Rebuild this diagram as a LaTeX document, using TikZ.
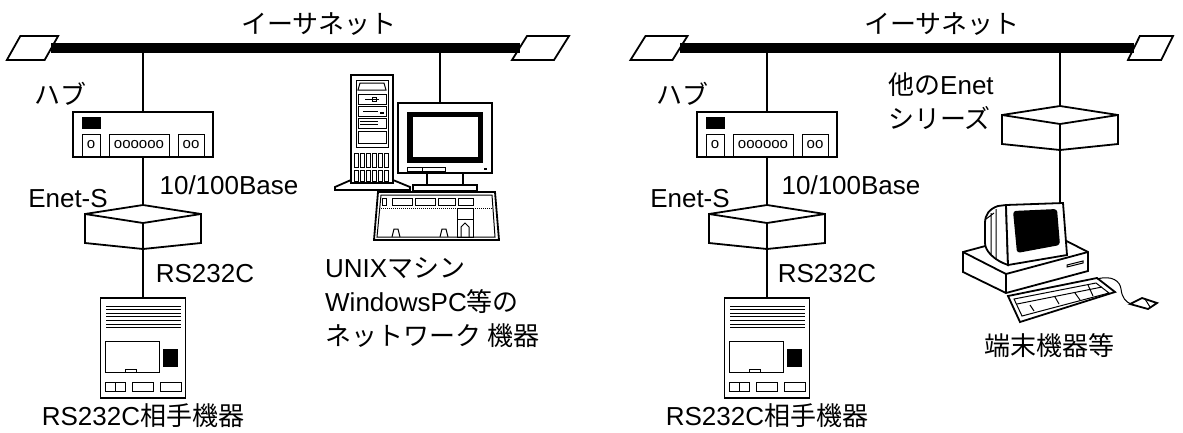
\documentclass[tikz,border=0pt]{standalone}
\usepackage{fontspec}
\setmainfont{Liberation Sans}
\newfontfamily\jp{Noto Sans CJK JP}
\usetikzlibrary{positioning}

\tikzset{
	bus/.style={line width=10pt},
	link/.style={line width=2.8pt},
	outline/.style={line width=1.8pt,fill=white},
	stroke/.style={line width=1.8pt},
	fine/.style={line width=1pt},
	lbl/.style={inner sep=0pt,font=\fontsize{26}{30}\selectfont},
	tinylbl/.style={inner sep=0pt,font=\fontsize{15}{15}\selectfont},
	busend/.pic={
		\draw[outline] (-28.5,12) -- (-13.5,-12) -- (28.5,-12) -- (13.5,12) -- cycle;
		\coordinate (-l) at (-21,0);
		\coordinate (-r) at (21,0);
	},
	hub/.pic={
		\draw[outline] (-70,0) rectangle (70,45);
		\fill (-61,5) rectangle (-42,17);
		\draw[fine] (-61,22) rectangle (-43,45) (-34,22) rectangle (26,45) (35,22) rectangle (61,45);
		\node[tinylbl] at (-52,33) {o};
		\node[tinylbl] at (-4,33) {oooooo};
		\node[tinylbl] at (48,33) {oo};
		\coordinate (-top) at (0,0);
		\coordinate (-bot) at (0,45);
	},
	enetbox/.pic={
		\draw[outline] (0,0) -- (-58,9) -- (-58,38) -- (0,44) -- (58,38) -- (58,9) -- cycle;
		\draw[stroke] (-58,9) -- (0,18) -- (58,9) (0,18) -- (0,44);
		\coordinate (-top) at (0,0);
		\coordinate (-bot) at (0,44);
	},
	rsdev/.pic={
		\draw[outline] (-42.5,0) rectangle (42.5,100);
		\draw[fine] (-37,8) -- (38,8) (-37,11.6) -- (38,11.6) (-37,15.2) -- (38,15.2) (-37,18.8) -- (38,18.8)
			(-37,22.4) -- (38,22.4) (-37,26) -- (38,26) (-37,29.6) -- (38,29.6);
		\draw[fine] (-38,43) rectangle (16,74) (-18,71) rectangle (-7,74);
		\fill (20,51) rectangle (35,69);
		\draw[fine] (-38,84) rectangle (-18,93) (-28,84) -- (-28,93) (-11,84) rectangle (10,93) (17,84) rectangle (38,93);
		\coordinate (-top) at (0,0);
	},
	unixpc/.pic={
		\draw[outline] (-89,77) -- (-105,84) -- (-105,87) -- (-30,87) -- (-30,84) -- (-47,77) -- cycle;
		\draw[outline] (-89,-28) rectangle (-47,80);
		\draw[fine] (-84,-23) rectangle (-52,44);
		\draw[fine] (-82,-13) -- (-80,-20) -- (-56,-20) -- (-54,-13) -- cycle;
		\draw[fine] (-82,-9) rectangle (-54,1) (-75,-4) -- (-61,-4) (-68,-6) rectangle (-64,-2);
		\draw[fine] (-82,3) rectangle (-54,13) (-77,8) -- (-62,8);
		\fill (-60,9) rectangle (-56,11);
		\draw[fine] (-82,15) rectangle (-54,25) (-80,18) -- (-62,18) (-80,21) -- (-62,21);
		\draw[fine] (-82,28) rectangle (-54,40);
		\draw[fine] (-86,50) rectangle (-82,64) (-80,50) rectangle (-76,64) (-74,50) rectangle (-70,64)
			(-68,50) rectangle (-64,64) (-62,50) rectangle (-58,64) (-56,50) rectangle (-52,64)
			(-86,67) rectangle (-82,78) (-80,67) rectangle (-76,78) (-74,67) rectangle (-70,78)
			(-68,67) rectangle (-64,78) (-62,67) rectangle (-58,78) (-56,67) rectangle (-52,78);
		\draw[outline] (-42,0) rectangle (52,70);
		\fill (-33,9) rectangle (43,60);
		\fill[white] (-27,14) rectangle (38,54);
		\draw[fine] (-33,64) rectangle (5,68) (-18,64) -- (-18,68);
		\fill (44,65) rectangle (47,67);
		\draw[outline] (-13,70) rectangle (23,82);
		\draw[outline] (-27,82) rectangle (37,88);
		\draw[outline] (-62,89) -- (55,89) -- (59,137) -- (-66,137) -- cycle;
		\draw[fine] (-59,92) -- (52,92) -- (55,134) -- (-63,134) -- cycle;
		\draw[fine] (-58,95) rectangle (-54,102) (-48,95) rectangle (-28,102) (-25,95) rectangle (-5,102)
			(-2,95) rectangle (15,102) (18,95) rectangle (33,102);
		\draw[fine,dash pattern=on 1pt off 1pt] (-59,105) -- (53,105);
		\draw[fine] (17,105) rectangle (33,134) (17,116) -- (33,116);
		\draw[fine] (-48,134) -- (-46,126) -- (-42,126) -- (-40,134) (0,134) -- (2,126) -- (6,126) -- (8,134)
			(21,134) -- (21,124) -- (25,120) -- (29,124) -- (29,134);
		\coordinate (-top) at (0,0);
	},
	terminal/.pic={
		\draw[outline] (-97,49) -- (-15,27) -- (28,49) -- (28,68) -- (-54,90) -- (-97,69) -- cycle;
		\draw[stroke] (-97,49) -- (-54,71) -- (28,49) (-54,71) -- (-54,90);
		\draw[fine] (7,62) -- (23,58) -- (23,60) -- (7,64) -- cycle;
		\draw[outline] (-54,2) -- (-62,3) .. controls (-71,6) and (-75,12) .. (-75,20) -- (-75,40)
			.. controls (-75,48) and (-66,56) .. (-57,60) -- (-52,62) -- cycle;
		\draw[fine] (-69,10) -- (-69,52) (-64,6) -- (-64,56) (-74,16) -- (-66,10);
		\draw[outline] (-54,2) -- (3,0) -- (7,52) -- (-52,62) -- cycle;
		\fill[rounded corners=3pt] (-47,8) -- (-3,6) -- (0,42) -- (-43,50) -- cycle;
		\draw[outline] (-52,93) -- (37,75) -- (55,89) -- (-40,119) -- cycle;
		\draw[fine] (-46,96) -- (36,80) -- (49,90) -- (-38,113) -- cycle;
		\draw[fine] (-43,101) -- (42,84) (-5,94) -- (-1,101) (15,90) -- (20,97) (28,82) -- (33,93) (-30,102) -- (-26,108);
		\draw[fine] (37,76) .. controls (52,72) and (60,78) .. (61,86) .. controls (62,95) and (66,99) .. (71,101);
		\draw[outline] (70,101) -- (82,95) -- (97,100) -- (88,106) -- cycle;
		\draw[fine] (85,96) -- (90,104);
		\coordinate (-top) at (0,0);
	}
}

\begin{document}
\begin{tikzpicture}[x=1pt,y=-1pt]
	\useasboundingbox (0,0) rectangle (1183,432);
	\clip (0,0) rectangle (1183,432);

	\pic[xscale=0.9]  (endL1) at (32.5,48)   {busend};
	\pic              (endL2) at (540.5,48)  {busend};
	\pic              (endR1) at (659,48)    {busend};
	\pic[xscale=0.79] (endR2) at (1150.5,48) {busend};

	\coordinate (hubL-at)   at (143,112);
	\coordinate (hubR-at)   at (767,112);
	\coordinate (pcL-at)    at (440,103);
	\coordinate (otherR-at) at (1060,106);

	\draw[link] (hubL-at |- endL1-r) -- (hubL-at);
	\draw[link] (pcL-at |- endL1-r) -- (pcL-at);
	\draw[link] (hubR-at |- endR1-r) -- (hubR-at);
	\draw[link] (otherR-at |- endR1-r) -- (otherR-at);
	\draw[bus] (endL1-r) -- (endL2-l);
	\draw[bus] (endR1-r) -- (endR2-l);

	\pic (hubL)   at (hubL-at)   {hub};
	\pic (enetL)  at (143,205)   {enetbox};
	\pic (rsL)    at (143,298)   {rsdev};
	\pic (pcL)    at (pcL-at)    {unixpc};
	\pic (hubR)   at (hubR-at)   {hub};
	\pic (enetR)  at (767,205)   {enetbox};
	\pic (rsR)    at (767,298)   {rsdev};
	\pic (otherR) at (otherR-at) {enetbox};
	\pic (termR)  at (1060,203)  {terminal};

	\draw[link] (hubL-bot) -- (enetL-top);
	\draw[link] (enetL-bot) -- (rsL-top);
	\draw[link] (hubR-bot) -- (enetR-top);
	\draw[link] (enetR-bot) -- (rsR-top);
	\draw[link] (otherR-bot) -- (termR-top);

	\node[lbl] (netL)   at (319,24)  {\jp イーサネット};
	\node[lbl] (hubtL)  at (60,94)   {\jp ハブ};
	\node[lbl] (baseL)  at (229,185) {10/100Base};
	\node[lbl] (enetsL) at (68,199)  {Enet-S};
	\node[lbl] (rstL)   at (205,274) {RS232C};
	\node[lbl] (devL)   at (143,416) {RS232C{\jp 相手機器}};
	\node[lbl,anchor=base west] (unixA) at (325,277) {UNIX{\jp マシン}};
	\node[lbl,anchor=base west] (unixB) at (325,311) {WindowsPC{\jp 等の}};
	\node[lbl,anchor=base west] (unixC) at (325,345) {\jp ネットワーク 機器};

	\node[lbl] (netR)   at (942,24)  {\jp イーサネット};
	\node[lbl] (hubtR)  at (682,94)  {\jp ハブ};
	\node[lbl] (baseR)  at (851,185) {10/100Base};
	\node[lbl] (enetsR) at (690,199) {Enet-S};
	\node[lbl] (rstR)   at (827,274) {RS232C};
	\node[lbl] (devR)   at (767,416) {RS232C{\jp 相手機器}};
	\node[lbl,anchor=base west] (otherA) at (888,94)  {{\jp 他の}Enet};
	\node[lbl,anchor=base west] (otherB) at (888,128) {\jp シリーズ};
	\node[lbl] (termt)  at (1049,346) {\jp 端末機器等};
\end{tikzpicture}
\end{document}
